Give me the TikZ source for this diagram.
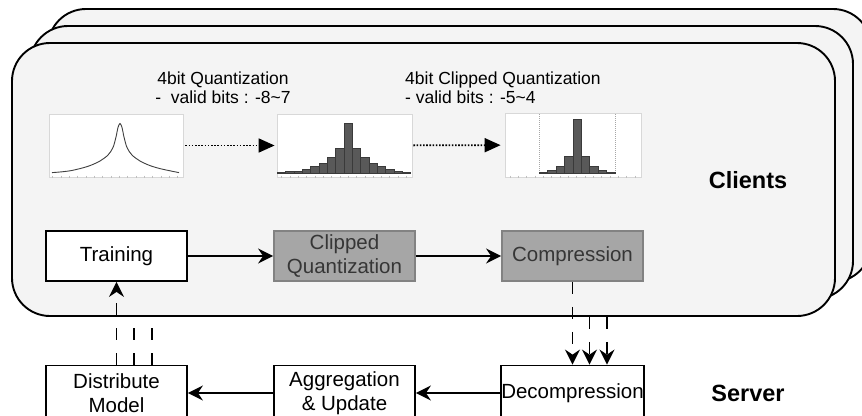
\documentclass[tikz,border=0pt]{standalone}
\usepackage{fontspec}
\setmainfont{Liberation Sans}
\usetikzlibrary{arrows.meta}

\definecolor{clientfill}{HTML}{F4F4F4}
\definecolor{stagefill}{HTML}{A6A6A6}
\definecolor{stageline}{HTML}{828282}
\definecolor{stagetext}{HTML}{363636}
\definecolor{barfill}{HTML}{595959}
\definecolor{barline}{HTML}{3A3A3A}
\definecolor{framegray}{HTML}{D8D8D8}

\begin{document}
\begin{tikzpicture}[x=1pt,y=-1pt,
  client/.style={draw=black, line width=1.9pt, fill=clientfill, rounded corners=38pt,
    minimum width=823pt, minimum height=273pt, inner sep=0pt},
  stagebox/.style={draw=black, line width=1.8pt, fill=white, minimum width=141pt,
    minimum height=50pt, inner sep=0pt, align=center,
    font=\fontsize{20.5}{24.5}\selectfont},
  graybox/.style={stagebox, fill=stagefill, draw=stageline, text=stagetext},
  serverbox/.style={stagebox, minimum height=55pt, font=\fontsize{20.5}{23.5}\selectfont},
  plotframe/.style={draw=framegray, line width=0.8pt, fill=white, inner sep=0pt},
  bar/.style={fill=barfill, draw=barline, line width=0.5pt},
  tick/.style={draw=gray!50, line width=0.6pt},
  flow/.style={line width=1.9pt, -{Stealth[length=15pt, width=15pt, inset=5pt]}},
  dashflow/.style={flow, dash pattern=on 12pt off 13pt},
  dashline/.style={line width=1.9pt, dash pattern=on 12pt off 13pt},
  dotflow/.style={line width=1.8pt, dash pattern=on 1.6pt off 1.6pt,
    -{Triangle[length=16pt, width=14pt]}},
  note/.style={font=\fontsize{17.5}{19.5}\selectfont, inner sep=0pt},
  role/.style={font=\bfseries\fontsize{23.5}{28}\selectfont, inner sep=0pt}
]
\useasboundingbox (0,0) rectangle (862,415);
\clip (0,0) rectangle (862,415);

% stacked client panels, back to front
\node[client] (back)  at (459.5,145.5) {};
\node[client] (mid)   at (441.5,162.5) {};
\node[client] (front) at (423.5,179.5) {};

% quantization notes
\node[note, align=center] (q1) at (223,87.5) {4bit Quantization\\-\ \ valid bits : -8\textasciitilde 7};
\node[note, align=left, anchor=west] (q2) at (405,87.5) {4bit Clipped Quantization\\- valid bits : -5\textasciitilde 4};

% distribution plots
\node[plotframe, minimum width=134pt, minimum height=63pt] (h1) at (116,145.5) {};
\node[plotframe, minimum width=135pt, minimum height=63pt] (h2) at (344.5,145.5) {};
\node[plotframe, minimum width=136pt, minimum height=64pt] (h3) at (573,145) {};

% full-precision weight density
\draw[line width=0.9pt, black!75] plot[smooth, tension=0.55] coordinates {
  (52,172.6) (60,172) (70,170.8) (80,168.6) (90,165.6) (100,161) (108,155)
  (113,147.5) (116,137) (118,127.5) (120,123.5) (122,127.5) (124,137)
  (127,147.5) (132,155) (140,161) (150,165.6) (160,168.6) (170,170.8)
  (179,172.6)};
\foreach \i in {0,...,15} \draw[tick] ({52.7+8.33*\i},175.5) -- ++(0,2);

% 4-bit histogram
\foreach \h [count=\i from 0] in {0.7,1.3,2,3.7,6.3,10,15.7,25,49.3,24.3,15.7,10,6.3,3.7,2,1}
  \draw[bar] ({277.3+8.33*\i},173) rectangle ++(8.33,-\h);
\foreach \i in {0,...,15} \draw[tick] ({281.5+8.33*\i},175.5) -- ++(0,2);

% clipped 4-bit histogram
\draw[gray!70, line width=0.6pt, dash pattern=on 1pt off 1pt] (539,114) -- (539,173);
\draw[gray!70, line width=0.6pt, dash pattern=on 1pt off 1pt] (615,114) -- (615,173);
\foreach \h [count=\i from 0] in {0.7,2.7,6.7,17,54,17,6.7,2.7,0.7}
  \draw[bar] ({539+8.44*\i},173) rectangle ++(8.44,-\h);
\foreach \i in {0,...,15} \draw[tick] ({510+8.33*\i},175.5) -- ++(0,2);

\draw[dotflow, shorten <=2pt, shorten >=2pt] (h1) -- (h2);
\draw[dotflow, shorten <=1pt, shorten >=4pt] (h2) -- (h3);

% client pipeline
\node[stagebox] (train) at (116.5,256) {Training};
\node[graybox]  (clip)  at (344.5,256) {Clipped\\Quantization};
\node[graybox]  (comp)  at (572.5,256) {Compression};
\draw[flow] (train) -- (clip);
\draw[flow] (clip) -- (comp);

\node[role] (clients) at (748,180) {Clients};

% server pipeline
\node[serverbox] (dist) at (116.5,393) {Distribute\\Model};
\node[serverbox] (agg)  at (344.5,393) {Aggregation\\\& Update};
\node[serverbox] (dec)  at (572.5,393) {Decompression};
\draw[flow] (dec) -- (agg);
\draw[flow] (agg) -- (dist);

\node[role] (server) at (748,393) {Server};

% model download to the clients
\coordinate (d2) at ([xshift=17.5pt]dist.north);
\coordinate (d3) at ([xshift=35.5pt]dist.north);
\draw[dashflow] (dist.north) -- (train.south);
\draw[dashline] (d2) -- (d2 |- front.south);
\draw[dashline] (d3) -- (d3 |- front.south);

% compressed updates to the server
\coordinate (u2) at ([xshift=17pt]dec.north);
\coordinate (u3) at ([xshift=34.5pt]dec.north);
\draw[dashflow] (comp.south) -- (dec.north);
\draw[dashflow] (u2 |- front.south) -- (u2);
\draw[dashflow] (u3 |- front.south) -- (u3);
\end{tikzpicture}
\end{document}
